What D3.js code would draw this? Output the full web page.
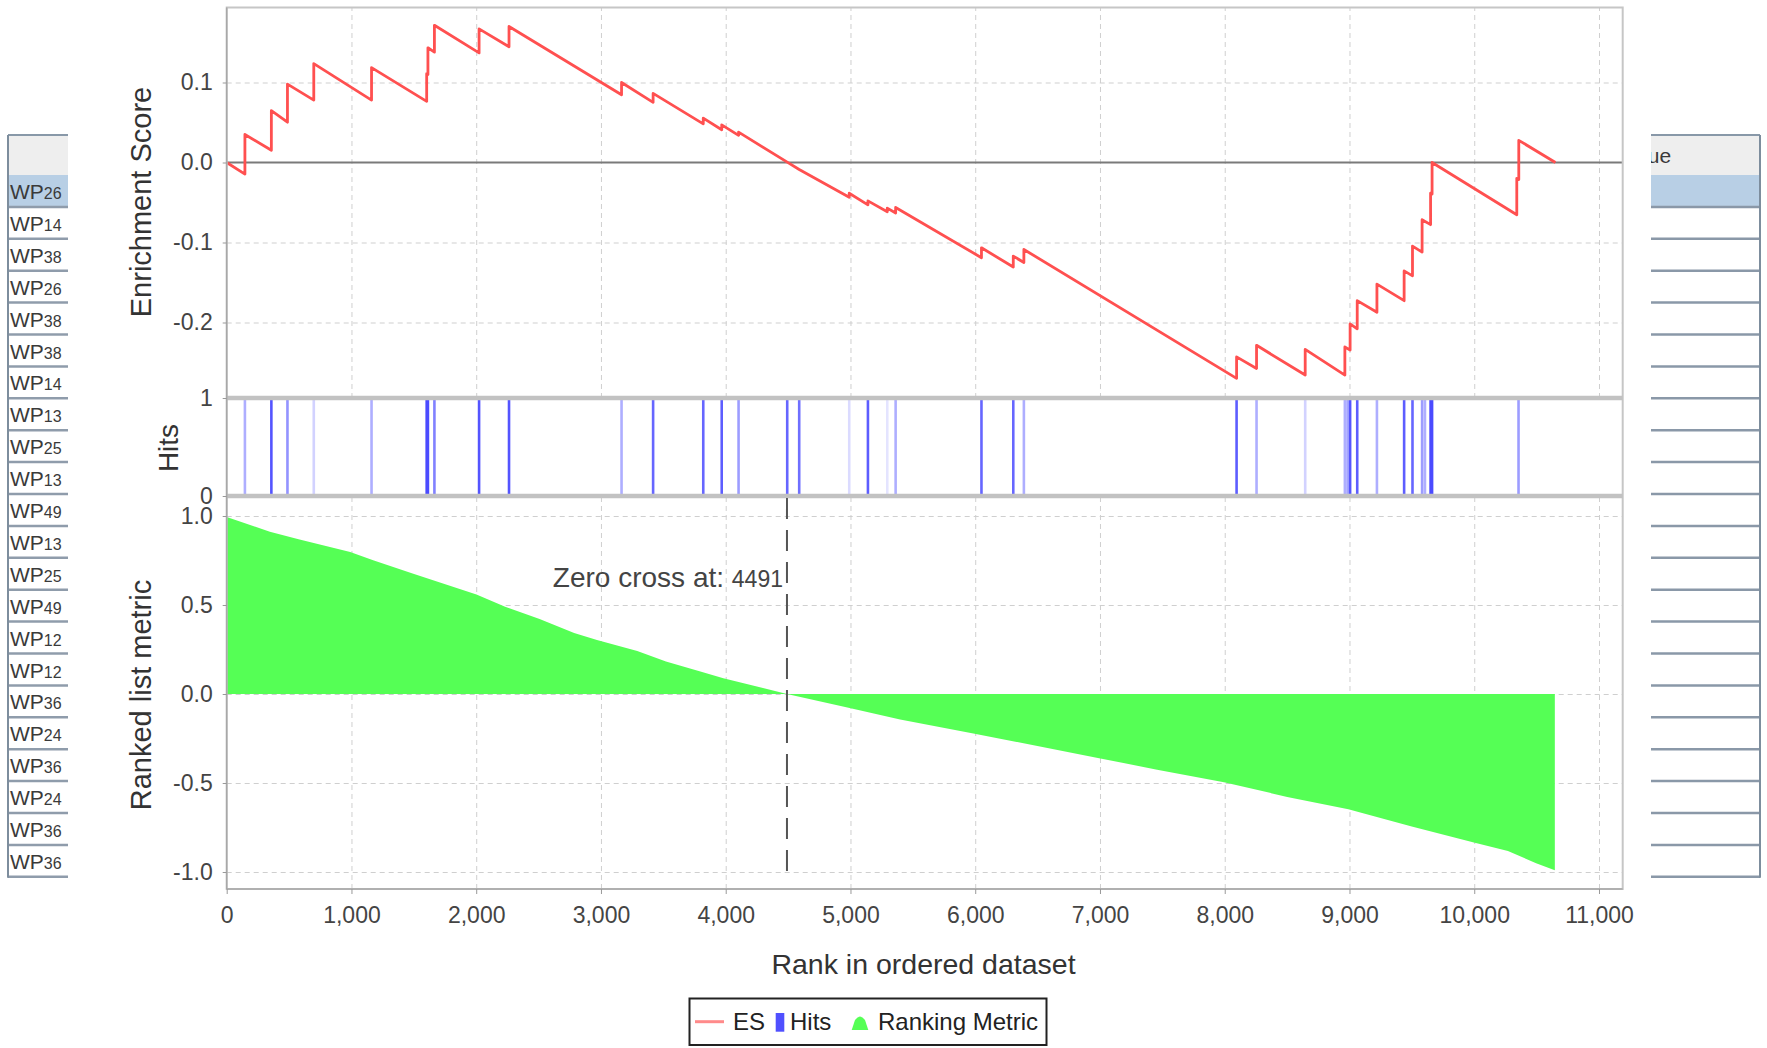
<!DOCTYPE html>
<html><head><meta charset="utf-8">
<script src="https://cdn.jsdelivr.net/npm/d3@7/dist/d3.min.js"></script>
<style>body{margin:0;background:#fff;overflow:hidden}text{font-family:"Liberation Sans",Arial,sans-serif}</style>
</head><body><svg id="c" width="1767" height="1048"></svg>
<script>
// ---------------- data ----------------
const xTicks = [0,1000,2000,3000,4000,5000,6000,7000,8000,9000,10000,11000];
const esTicks = [0.1, 0.0, -0.1, -0.2];
const hitTicks = [0, 1];
const metricTicks = [1.0, 0.5, 0.0, -0.5, -1.0];

const esRank = [0,146,146,358,358,487,487,698,698,1161,1161,1603,1603,1613,1613,1665,1665,2023,2023,2263,2263,
  3165,3165,3418,3418,3820,3820,3968,3968,4103,4103,4493,4589,4990,4990,5140,5140,5295,5295,5362,5362,
  6050,6050,6305,6305,6390,6390,8095,8095,8255,8255,8645,8645,8963,8963,9005,9005,9062,9062,9220,9220,
  9438,9438,9505,9505,9582,9582,9650,9650,9662,9662,10341,10341,10357,10357,10651];
const esValue = [0,-0.0145,0.035,0.0153,0.0649,0.0504,0.098,0.078,0.1236,0.078,0.1186,0.0764,0.111,0.110,0.1434,0.138,0.1715,0.137,0.167,0.1446,0.170,
  0.0847,0.100,0.0752,0.0864,0.0483,0.0554,0.0409,0.0471,0.0339,0.038,0.0005,-0.0087,-0.0434,-0.0384,-0.0529,-0.048,-0.0616,-0.057,-0.0632,-0.0562,
  -0.119,-0.1066,-0.1306,-0.117,-0.125,-0.1087,-0.2698,-0.243,-0.2574,-0.2285,-0.2657,-0.2335,-0.2657,-0.2306,-0.2345,-0.2017,-0.2079,-0.1727,-0.1872,-0.152,
  -0.1727,-0.1355,-0.1417,-0.1045,-0.112,-0.0715,-0.0777,-0.0384,-0.0395,0.0,-0.0653,-0.0198,-0.0213,0.0277,0.0];

const hitRank  = [146,358,487,698,1161,1603,1613,1665,2023,2263,3165,3418,3820,3968,4103,4493,4589,4990,5140,5295,5362,6050,6305,6390,
  8095,8255,8645,8963,8985,9005,9062,9220,9438,9505,9582,9605,9650,9662,10355];
const hitAlpha = [0.45,0.95,0.6,0.25,0.45,1,1,0.7,0.95,0.95,0.45,0.85,0.85,0.9,0.55,0.85,0.8,0.2,0.9,0.15,0.45,0.85,0.85,0.45,
  0.9,0.45,0.25,0.45,0.5,0.95,0.9,0.45,0.9,0.85,0.55,0.45,1,1,0.55];

const metricRank  = [0,346,576,990,1174,1496,2002,2232,2508,2785,2968,3291,3521,3797,3981,4491,4993,5398,5985,6983,7458,7994,8501,8991,9499,9989,10270,10496,10646];
const metricValue = [0.995,0.912,0.869,0.798,0.751,0.676,0.559,0.49,0.422,0.343,0.304,0.241,0.182,0.127,0.088,0.0,-0.078,-0.143,-0.222,-0.359,-0.425,-0.496,-0.578,-0.647,-0.745,-0.833,-0.882,-0.951,-0.99];

const zeroCross = 4491;
const leftRows = ["WP26","WP14","WP38","WP26","WP38","WP38","WP14","WP13","WP25","WP13","WP49","WP13","WP25","WP49","WP12","WP12","WP36","WP24","WP36","WP24","WP36","WP36"];
const legendItems = ["ES","Hits","Ranking Metric"];

// ---------------- layout ----------------
const svg = d3.select("#c");
const L = 226.7, R = 1622.7;
const esTop = 7.5, hitTop = 398, hitBot = 496, metBot = 889;
const x = d3.scaleLinear().domain([0, 11190]).range([L, R]);
const yES = d3.scaleLinear().domain([-0.294375, 0.19375]).range([hitTop, esTop]);
const yHit = d3.scaleLinear().domain([0, 1]).range([hitBot, hitTop]);
const yM = d3.scaleLinear().domain([-1.0955, 1.1124]).range([metBot, hitBot]);
const fmt1 = d => d.toFixed(1);

// ---------- side tables ----------
const rowH = 31.9, tblTop = 135, hdrBot = 175;
const clipL = svg.append("clipPath").attr("id","clipL");
clipL.append("rect").attr("x",0).attr("y",0).attr("width",68).attr("height",1048);
const tL = svg.append("g").attr("clip-path","url(#clipL)");
tL.append("rect").attr("x",8).attr("y",tblTop).attr("width",70).attr("height",hdrBot-tblTop).attr("fill","#eeeeee");
tL.append("rect").attr("x",8).attr("y",hdrBot).attr("width",70).attr("height",rowH).attr("fill","#b8cfe5");
tL.append("line").attr("x1",8).attr("x2",80).attr("y1",tblTop).attr("y2",tblTop).attr("stroke","#8898a8").attr("stroke-width",2);
leftRows.forEach((r,i) => {
  const y0 = hdrBot + i*rowH;
  tL.append("line").attr("x1",8).attr("x2",80).attr("y1",y0+rowH).attr("y2",y0+rowH).attr("stroke","#8f9cab").attr("stroke-width",2.5);
  const t = tL.append("text").attr("x",10).attr("y",y0+24).attr("fill","#3a3a3a").attr("font-size",21);
  t.append("tspan").text(r.slice(0,2));
  t.append("tspan").attr("font-size",16).text(r.slice(2));
});
tL.append("line").attr("x1",8).attr("x2",8).attr("y1",tblTop).attr("y2",hdrBot+leftRows.length*rowH+1).attr("stroke","#7d8d9d").attr("stroke-width",2);

const clipR = svg.append("clipPath").attr("id","clipR");
clipR.append("rect").attr("x",1651).attr("y",0).attr("width",120).attr("height",1048);
const tR = svg.append("g").attr("clip-path","url(#clipR)");
tR.append("rect").attr("x",1640).attr("y",tblTop).attr("width",120).attr("height",hdrBot-tblTop).attr("fill","#eeeeee");
tR.append("rect").attr("x",1640).attr("y",hdrBot).attr("width",120).attr("height",rowH).attr("fill","#b8cfe5");
tR.append("line").attr("x1",1640).attr("x2",1760).attr("y1",tblTop).attr("y2",tblTop).attr("stroke","#8898a8").attr("stroke-width",2);
tR.append("text").attr("x",1619).attr("y",163).attr("fill","#3a3a3a").attr("font-size",21).text("Value");
leftRows.forEach((r,i) => {
  const y0 = hdrBot + (i+1)*rowH;
  tR.append("line").attr("x1",1640).attr("x2",1760).attr("y1",y0).attr("y2",y0).attr("stroke","#8a98a8").attr("stroke-width",2.5);
});
tR.append("line").attr("x1",1760).attr("x2",1760).attr("y1",tblTop).attr("y2",hdrBot+leftRows.length*rowH+1).attr("stroke","#7d8d9d").attr("stroke-width",2);

// ---------- gridlines ----------
const grid = svg.append("g");
function vGrid(y0,y1){
  grid.append("g").attr("transform",`translate(0,${y1})`)
    .call(d3.axisBottom(x).tickValues(xTicks.slice(1)).tickSize(-(y1-y0)).tickFormat(""))
    .call(g=>g.select(".domain").remove())
    .call(g=>g.selectAll("line").attr("stroke","#cfcfcf").attr("stroke-dasharray","5,4"));
}
vGrid(esTop, hitTop); vGrid(hitBot, metBot);
grid.append("g").attr("transform",`translate(${L},0)`)
  .call(d3.axisLeft(yES).tickValues(esTicks.filter(d=>d!==0)).tickSize(-(R-L)).tickFormat(""))
  .call(g=>g.select(".domain").remove())
  .call(g=>g.selectAll("line").attr("stroke","#cfcfcf").attr("stroke-dasharray","5,4"));
grid.append("g").attr("transform",`translate(${L},0)`)
  .call(d3.axisLeft(yM).tickValues(metricTicks).tickSize(-(R-L)).tickFormat(""))
  .call(g=>g.select(".domain").remove())
  .call(g=>g.selectAll("line").attr("stroke","#cfcfcf").attr("stroke-dasharray","5,4"));

// ES zero line
svg.append("line").attr("x1",L).attr("x2",R).attr("y1",yES(0)).attr("y2",yES(0)).attr("stroke","#7a7a7a").attr("stroke-width",2);

// ---------- metric area ----------
const mData = metricRank.map((r,i)=>({r, v:metricValue[i]}));
svg.append("path").datum(mData)
  .attr("d", d3.area().x(d=>x(d.r)).y0(yM(0)).y1(d=>yM(d.v)))
  .attr("fill","#55ff55");

// ---------- hits ----------
svg.append("g").selectAll("line").data(hitRank).join("line")
  .attr("x1",d=>x(d)).attr("x2",d=>x(d)).attr("y1",yHit(0)).attr("y2",yHit(1))
  .attr("stroke","#4b4bff").attr("stroke-width",2.6)
  .attr("stroke-opacity",(d,i)=>hitAlpha[i]);

// ---------- ES line ----------
const esData = esRank.map((r,i)=>({r, v:esValue[i]}));
svg.append("path").datum(esData)
  .attr("d", d3.line().x(d=>x(d.r)).y(d=>yES(d.v)))
  .attr("fill","none").attr("stroke","#ff5050").attr("stroke-width",2.8).attr("stroke-linejoin","round");

// ---------- frames ----------
svg.append("rect").attr("x",L).attr("y",esTop).attr("width",R-L).attr("height",metBot-esTop)
  .attr("fill","none").attr("stroke","#c6c6c6").attr("stroke-width",2);
[hitTop, hitBot].forEach(y=>svg.append("line").attr("x1",L).attr("x2",R).attr("y1",y).attr("y2",y).attr("stroke","#c2c2c2").attr("stroke-width",4.5));
svg.append("line").attr("x1",L).attr("x2",L).attr("y1",esTop).attr("y2",metBot).attr("stroke","#a8a8a8").attr("stroke-width",1.5);
svg.append("line").attr("x1",L).attr("x2",R).attr("y1",metBot).attr("y2",metBot).attr("stroke","#a8a8a8").attr("stroke-width",1.5);

// ---------- axes ----------
function styleAxis(g){
  g.select(".domain").remove();
  g.selectAll("line").attr("stroke","#999");
  g.selectAll("text").attr("fill","#444").attr("font-size",23).attr("font-family","'Liberation Sans',Arial,sans-serif");
}
svg.append("g").attr("transform",`translate(0,${metBot})`)
  .call(d3.axisBottom(x).tickValues(xTicks).tickFormat(d3.format(",")).tickSize(5).tickPadding(13))
  .call(styleAxis);
svg.append("g").attr("transform",`translate(${L},0)`)
  .call(d3.axisLeft(yES).tickValues(esTicks).tickFormat(fmt1).tickSize(4).tickPadding(10))
  .call(styleAxis);
svg.append("g").attr("transform",`translate(${L},0)`)
  .call(d3.axisLeft(yHit).tickValues(hitTicks).tickFormat(d=>String(d)).tickSize(4).tickPadding(10))
  .call(styleAxis);
svg.append("g").attr("transform",`translate(${L},0)`)
  .call(d3.axisLeft(yM).tickValues(metricTicks).tickFormat(fmt1).tickSize(4).tickPadding(10))
  .call(styleAxis);

// axis titles
const tc = "#333";
svg.append("text").attr("transform","translate(151,202) rotate(-90)").attr("text-anchor","middle")
  .attr("font-size",29).attr("fill",tc).text("Enrichment Score");
svg.append("text").attr("transform","translate(178,448) rotate(-90)").attr("text-anchor","middle")
  .attr("font-size",28).attr("fill",tc).text("Hits");
svg.append("text").attr("transform","translate(151,695) rotate(-90)").attr("text-anchor","middle")
  .attr("font-size",29).attr("fill",tc).text("Ranked list metric");
svg.append("text").attr("x",923.5).attr("y",974).attr("text-anchor","middle")
  .attr("font-size",28.5).attr("fill",tc).text("Rank in ordered dataset");

// ---------- zero cross ----------
svg.append("line").attr("x1",x(zeroCross)).attr("x2",x(zeroCross)).attr("y1",hitBot+2).attr("y2",877)
  .attr("stroke","#555").attr("stroke-width",2).attr("stroke-dasharray","21,11");
const zt = svg.append("text").attr("x",x(zeroCross)-4).attr("y",587).attr("text-anchor","end").attr("fill","#444").attr("font-size",28);
zt.append("tspan").text("Zero cross at: ");
zt.append("tspan").attr("font-size",23).text(String(zeroCross));

// ---------- legend ----------
const lg = svg.append("g");
lg.append("rect").attr("x",689.5).attr("y",998.5).attr("width",357).attr("height",46.5).attr("fill","#fff").attr("stroke","#222").attr("stroke-width",2);
lg.append("line").attr("x1",695).attr("x2",724).attr("y1",1021.7).attr("y2",1021.7).attr("stroke","#ff8a8a").attr("stroke-width",3);
lg.append("text").attr("x",733).attr("y",1030).attr("font-size",24).attr("fill","#222").text(legendItems[0]);
lg.append("rect").attr("x",775.7).attr("y",1013).attr("width",8.6).attr("height",18.7).attr("fill","#5050ff");
lg.append("text").attr("x",790).attr("y",1030).attr("font-size",24).attr("fill","#222").text(legendItems[1]);
lg.append("path").attr("d","M851.7,1030 L855,1020 Q860,1013 865,1020 L868.3,1030 Z").attr("fill","#55ff55");
lg.append("text").attr("x",878).attr("y",1030).attr("font-size",24).attr("fill","#222").text(legendItems[2]);
</script></body></html>
